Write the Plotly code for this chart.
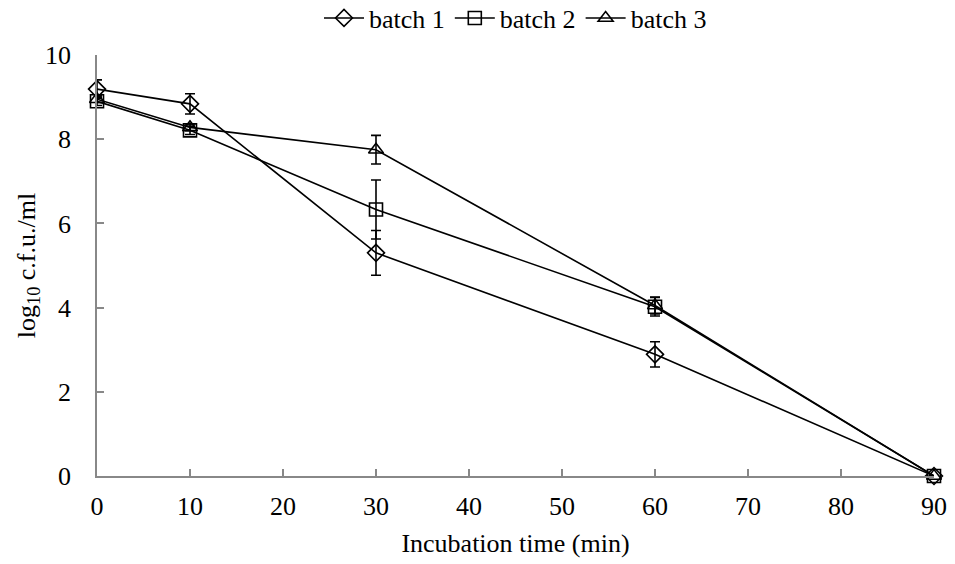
import plotly.graph_objects as go

times = [0, 10, 30, 60, 90]
series_names = ["batch 1", "batch 2", "batch 3"]
batch1 = [9.19, 8.84, 5.30, 2.89, 0.0]
batch1_err = [0.22, 0.24, 0.53, 0.30, 0.0]
batch2 = [8.90, 8.21, 6.33, 4.02, 0.0]
batch2_err = [0.10, 0.10, 0.70, 0.22, 0.0]
batch3 = [8.95, 8.28, 7.75, 4.05, 0.0]
batch3_err = [0.08, 0.08, 0.34, 0.20, 0.0]
symbols = ["diamond-open", "square-open", "triangle-up-open"]
sizes = [13, 13, 13]

fig = go.Figure()
for name, ys, err, sym, sz in zip(series_names, [batch1, batch2, batch3],
                                  [batch1_err, batch2_err, batch3_err], symbols, sizes):
    fig.add_trace(go.Scatter(
        x=times, y=ys, name=name, mode="lines+markers",
        line=dict(color="black", width=1.6),
        marker=dict(symbol=sym, size=sz, color="black", line=dict(width=1.6, color="black")),
        error_y=dict(type="data", array=err, visible=True, color="black", thickness=1.6, width=5),
        cliponaxis=False,
    ))

font_family = "Liberation Serif, Times New Roman, serif"
fs = 26
fig.update_layout(
    width=955, height=564,
    margin=dict(l=97, r=21, t=55, b=88, autoexpand=False),
    paper_bgcolor="white", plot_bgcolor="white",
    font=dict(family=font_family, size=fs, color="black"),
    showlegend=True,
    legend=dict(orientation="h", x=0.5, xanchor="center", yref="container", y=0.968,
                yanchor="middle", font=dict(size=fs), itemwidth=40, tracegroupgap=0),
    xaxis=dict(range=[0, 90], tickvals=[0, 10, 20, 30, 40, 50, 60, 70, 80, 90],
               showline=True, linecolor="#888888", linewidth=1.5,
               ticks="inside", tickcolor="#888888", ticklen=7, tickwidth=1.5,
               showgrid=False, zeroline=False, ticklabelstandoff=6, automargin=False,
               title=dict(text="Incubation time (min)", font=dict(size=fs), standoff=14),
               tickfont=dict(size=fs)),
    yaxis=dict(range=[0, 10], tickvals=[0, 2, 4, 6, 8, 10],
               showline=True, linecolor="#888888", linewidth=1.5,
               ticks="inside", tickcolor="#888888", ticklen=7, tickwidth=1.5,
               showgrid=False, zeroline=False, ticklabelstandoff=19, automargin=False,
               title=dict(text="log<sub>10</sub> c.f.u./ml", font=dict(size=fs), standoff=2),
               tickfont=dict(size=fs)),
)

fig.write_html("out.html")
